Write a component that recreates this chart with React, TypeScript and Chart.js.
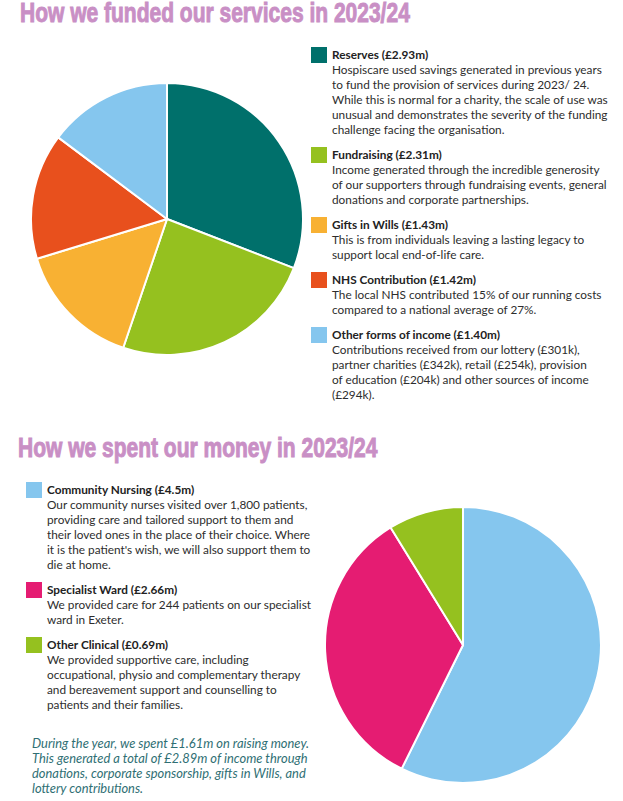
import React, { useEffect, useRef } from "react";
import { Chart, registerables } from "chart.js";
Chart.register(...registerables);

const fundLabels = ["Reserves", "Fundraising", "Gifts in Wills", "NHS Contribution", "Other forms of income"];
const fundAmounts = ["£2.93m", "£2.31m", "£1.43m", "£1.42m", "£1.40m"];
const fundValues = [2.93, 2.31, 1.43, 1.42, 1.4];
const fundColors = ["#00706B", "#95C11F", "#F8B133", "#E8501D", "#85C6EE"];
const fundNotes = [
  [
    "Hospiscare used savings generated in previous years",
    "to fund the provision of services during 2023/ 24.",
    "While this is normal for a charity, the scale of use was",
    "unusual and demonstrates the severity of the funding",
    "challenge facing the organisation.",
  ],
  [
    "Income generated through the incredible generosity",
    "of our supporters through fundraising events, general",
    "donations and corporate partnerships.",
  ],
  ["This is from individuals leaving a lasting legacy to", "support local end-of-life care."],
  ["The local NHS contributed 15% of our running costs", "compared to a national average of 27%."],
  [
    "Contributions received from our lottery (£301k),",
    "partner charities (£342k), retail (£254k), provision",
    "of education (£204k) and other sources of income",
    "(£294k).",
  ],
];

const spendLabels = ["Community Nursing", "Specialist Ward", "Other Clinical"];
const spendAmounts = ["£4.5m", "£2.66m", "£0.69m"];
const spendValues = [4.5, 2.66, 0.69];
const spendColors = ["#85C6EE", "#E51C72", "#95C11F"];
const spendNotes = [
  [
    "Our community nurses visited over 1,800 patients,",
    "providing care and tailored support to them and",
    "their loved ones in the place of their choice. Where",
    "it is the patient's wish, we will also support them to",
    "die at home.",
  ],
  ["We provided care for 244 patients on our specialist", "ward in Exeter."],
  [
    "We provided supportive care, including",
    "occupational, physio and complementary therapy",
    "and bereavement support and counselling to",
    "patients and their families.",
  ],
];
const footNote = [
  "During the year, we spent £1.61m on raising money.",
  "This generated a total of £2.89m of income through",
  "donations, corporate sponsorship, gifts in Wills, and",
  "lottery contributions.",
];

const title1 = "How we funded our services in 2023/24";
const title2 = "How we spent our money in 2023/24";

const BODY_FONT = "Lato, 'Noto Sans', sans-serif";
const TITLE_FONT = "'Liberation Sans', sans-serif";

function Pie(props: { labels: string[]; values: number[]; colors: string[]; size: number; pad: number; style: any }) {
  const ref = useRef<HTMLCanvasElement>(null);
  useEffect(() => {
    const chart = new Chart(ref.current!, {
      type: "pie",
      data: {
        labels: props.labels,
        datasets: [
          {
            data: props.values,
            backgroundColor: props.colors,
            borderColor: "#ffffff",
            borderWidth: 2,
          },
        ],
      },
      options: {
        responsive: false,
        animation: false,
        devicePixelRatio: 1,
        layout: { padding: props.pad },
        plugins: { legend: { display: false }, tooltip: { enabled: false } },
      },
    });
    return () => chart.destroy();
  }, []);
  return <canvas ref={ref} width={props.size} height={props.size} style={{ position: "absolute", ...props.style }} />;
}

function Block(props: { color: string; label: string; amount: string; lines: string[]; squareLeft: number }) {
  return (
    <div style={{ position: "relative", marginBottom: 10 }}>
      <div
        style={{
          position: "absolute",
          left: props.squareLeft,
          top: 0.5,
          width: 16,
          height: 16,
          background: props.color,
        }}
      />
      <div style={{ fontWeight: 700, color: "#222" }}>
        {props.label} ({props.amount})
      </div>
      {props.lines.map((l, i) => (
        <div key={i}>{l}</div>
      ))}
    </div>
  );
}

const titleStyle: any = {
  position: "absolute",
  fontFamily: TITLE_FONT,
  fontWeight: 700,
  fontSize: 28,
  lineHeight: "32px",
  color: "#C98FC5",
  WebkitTextStroke: "1px #C98FC5",
  whiteSpace: "nowrap",
  transform: "scaleX(0.75)",
  transformOrigin: "0 0",
};

export default function App() {
  return (
    <div
      style={{
        position: "absolute",
        left: 0,
        top: 0,
        width: 623,
        height: 801,
        background: "#fff",
        overflow: "hidden",
        fontFamily: BODY_FONT,
      }}
    >
      <div style={{ ...titleStyle, left: 20, top: -3 }}>{title1}</div>
      <Pie
        labels={fundLabels}
        values={fundValues}
        colors={fundColors}
        size={280}
        pad={3}
        style={{ left: 27, top: 79 }}
      />
      <div
        style={{
          position: "absolute",
          left: 332,
          top: 46.5,
          fontSize: 11.8,
          lineHeight: "15px",
          color: "#2d2d2d",
          whiteSpace: "nowrap",
        }}
      >
        {fundLabels.map((lab, i) => (
          <Block key={i} color={fundColors[i]} label={lab} amount={fundAmounts[i]} lines={fundNotes[i]} squareLeft={-21} />
        ))}
      </div>

      <div style={{ ...titleStyle, left: 18, top: 432 }}>{title2}</div>
      <div
        style={{
          position: "absolute",
          left: 47,
          top: 481.5,
          fontSize: 11.8,
          lineHeight: "15px",
          color: "#2d2d2d",
          whiteSpace: "nowrap",
        }}
      >
        {spendLabels.map((lab, i) => (
          <Block key={i} color={spendColors[i]} label={lab} amount={spendAmounts[i]} lines={spendNotes[i]} squareLeft={-21} />
        ))}
      </div>
      <div
        style={{
          position: "absolute",
          left: 32,
          top: 735.5,
          fontSize: 12.9,
          lineHeight: "15px",
          fontStyle: "italic",
          color: "#2F6F74",
          whiteSpace: "nowrap",
        }}
      >
        {footNote.map((l, i) => (
          <div key={i}>{l}</div>
        ))}
      </div>
      <Pie
        labels={spendLabels}
        values={spendValues}
        colors={spendColors}
        size={280}
        pad={1}
        style={{ left: 323, top: 505 }}
      />
    </div>
  );
}
